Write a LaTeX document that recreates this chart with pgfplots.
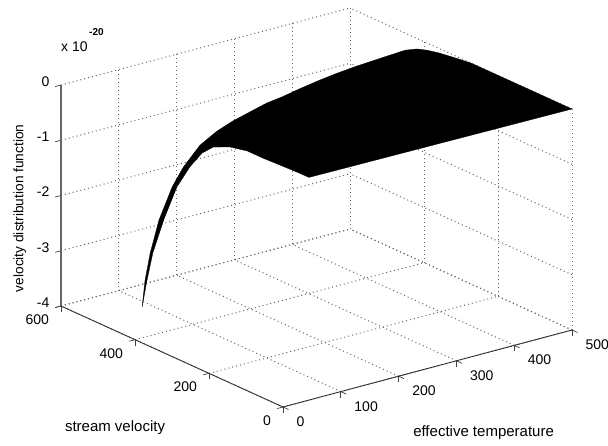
\documentclass[border=0pt]{standalone}
\usepackage{fontspec}
\setmainfont{Liberation Sans}
\usepackage{pgfplots}
\pgfplotsset{compat=1.18}
\begin{document}
\begin{tikzpicture}[x=1pt,y=1pt]
\useasboundingbox (0,0) rectangle (608,446);
\begin{axis}[
  at={(283pt,260pt)}, anchor=origin,
  x={(0.578pt,0.154pt)}, y={(-0.37pt,0.1683pt)}, z={(0pt,55.25pt)},
  xmin=0,xmax=500,ymin=0,ymax=600,zmin=-4,zmax=0,
  clip=false,
  xtick={0,100,200,300,400,500},
  ytick={0,200,400,600},
  ztick={-4,-3,-2,-1,0},
  axis x line*=bottom, axis y line*=left, axis z line*=left,
  grid=major,
  grid style={draw=black!60,line width=1pt,dash pattern=on 1pt off 3pt},
  axis line style={draw=none},
  tick style={draw=black!75,line width=0.7pt},
  major tick length=6pt,
  tick align=outside,
  font=\fontsize{14}{16}\selectfont,
  /pgf/number format/assume math mode=true,
  xticklabel style={inner sep=1pt,anchor=north west,xshift=7pt,yshift=-6pt},
  yticklabel style={inner sep=1pt,anchor=north east,xshift=-5pt,yshift=-6pt},
  zticklabel style={inner sep=1pt,anchor=east,xshift=-5pt,yshift=1pt},
  xlabel={effective temperature},
  ylabel={stream velocity},
  zlabel={velocity distribution function},
  every axis x label/.style={at={(axis cs:347,0,-5.43)},anchor=center,font=\fontsize{15}{16}\selectfont},
  every axis y label/.style={at={(axis cs:0,454,-5.76)},anchor=center,font=\fontsize{15}{16}\selectfont},
  every axis z label/.style={at={(axis cs:0,711,-2.57)},anchor=center,rotate=90,font=\fontsize{13.7}{16}\selectfont},
]
\addplot3[draw=black,fill=black,line width=0.3pt] coordinates {
 (45,0,0.03) (45,32,0.027) (45,79,0.014) (45,124,0) (45,167,0) (45,214,-0.07)
 (45,259,-0.21) (45,289,-0.41) (45,322,-0.76) (45,357,-1.23) (45,392,-1.92)
 (45,422,-2.62) (45,438,-3.17) (45,451,-3.69)
 (50,451,-3.22) (59,451,-2.75) (74,451,-2.2) (97,451,-1.66) (116,451,-1.36)
 (145,451,-1.04) (174,451,-0.87) (202,451,-0.76) (231,451,-0.68) (260,451,-0.60)
 (288,451,-0.56) (317,451,-0.50) (352,451,-0.44) (381,451,-0.40) (409,451,-0.37)
 (438,451,-0.35) (467,451,-0.33) (485,451,-0.32) (500,451,-0.31)
 (500,419,-0.19) (500,392,-0.13) (500,359,-0.08) (500,319,-0.04) (500,273,0) (500,0,0)
 (45,0,0.03)
} --cycle;
\addplot3[draw=black!60,line width=1.2pt] coordinates {(0,600,-4) (0,600,0)};
\addplot3[draw=black!80,line width=0.9pt] coordinates {(0,600,-4) (0,0,-4) (500,0,-4)};
\end{axis}
\node[font=\fontsize{14}{16}\selectfont,anchor=base west,inner sep=0pt] at (61,394) {x 10};
\node[font=\fontsize{10}{10}\selectfont\bfseries,anchor=base west,inner sep=0pt] at (89,410) {-20};
\end{tikzpicture}
\end{document}
